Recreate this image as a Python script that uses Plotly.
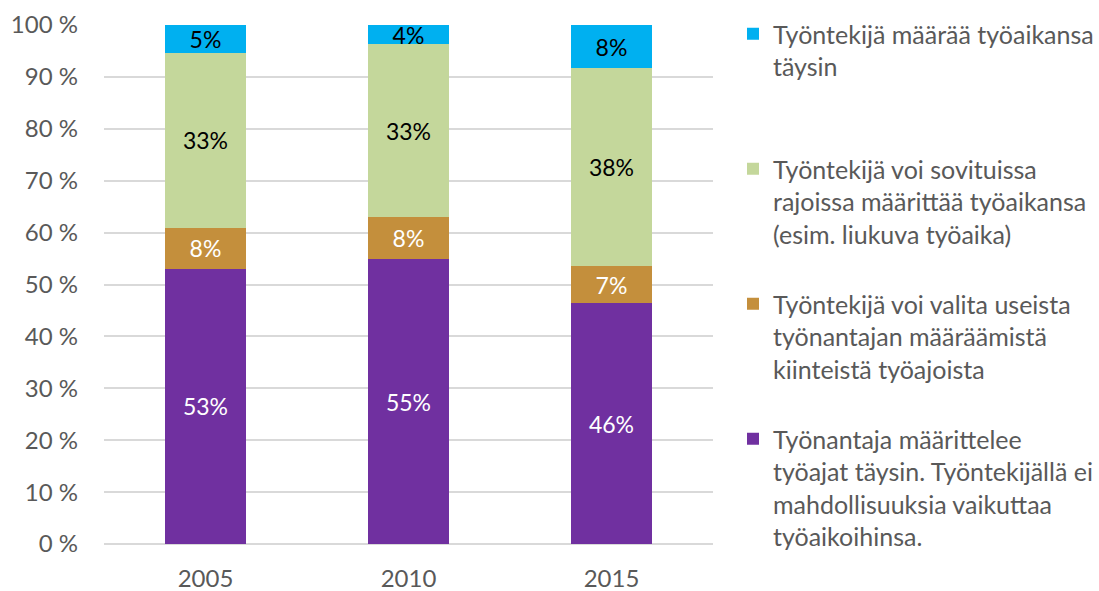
import plotly.graph_objects as go

years = ["2005", "2010", "2015"]
series_names = [
    "Työnantaja määrittelee<br>työajat täysin. Työntekijällä ei<br>mahdollisuuksia vaikuttaa<br>työaikoihinsa.",
    "Työntekijä voi valita useista<br>työnantajan määräämistä<br>kiinteistä työajoista",
    "Työntekijä voi sovituissa<br>rajoissa määrittää työaikansa<br>(esim. liukuva työaika)",
    "Työntekijä määrää työaikansa<br>täysin",
]
employer = [53.0, 54.9, 46.4]
fixed_choice = [7.9, 8.1, 7.2]
flexible = [33.7, 33.3, 38.1]
employee = [5.4, 3.7, 8.3]

employer_lbl = ["53%", "55%", "46%"]
fixed_lbl = ["8%", "8%", "7%"]
flexible_lbl = ["33%", "33%", "38%"]
employee_lbl = ["5%", "4%", "8%"]

colors = ["#7030A0", "#C48F3C", "#C4D79B", "#00B0F0"]
text_colors = ["white", "white", "black", "black"]
legend_ids = ["legend4", "legend3", "legend2", "legend"]
legend_y = [440, 305, 170, 35]

FONT = "Lato"
fig = go.Figure()
for vals, lbls, name, col, tcol, lid in zip(
    [employer, fixed_choice, flexible, employee],
    [employer_lbl, fixed_lbl, flexible_lbl, employee_lbl],
    series_names, colors, text_colors, legend_ids):
    fig.add_trace(go.Bar(
        x=years, y=vals, name=name, marker=dict(color=col, line=dict(width=0)),
        text=lbls, textposition="inside", insidetextanchor="middle",
        textangle=0, constraintext="none",
        textfont=dict(color=tcol, size=23, family=FONT),
        legend=lid, hoverinfo="skip",
    ))

W, H = 1099, 591
layout_legends = {}
for lid, yp in zip(legend_ids, legend_y):
    layout_legends[lid] = dict(
        x=733 / W, xref="container", xanchor="left",
        y=1 - (yp - 24) / H, yref="container", yanchor="top",
        font=dict(size=25, family=FONT, color="#595959"),
        valign="top", bgcolor="rgba(0,0,0,0)", itemwidth=30,
    )

fig.update_layout(
    barmode="stack", bargap=0.6,
    width=W, height=H,
    margin=dict(l=104, r=386, t=25, b=47, autoexpand=False),
    paper_bgcolor="white", plot_bgcolor="white",
    font=dict(family=FONT, color="#595959"),
    showlegend=True,
    **layout_legends,
)
fig.update_yaxes(
    range=[0, 100], dtick=10, ticksuffix=" %", automargin=False,
    showgrid=True, gridcolor="#D9D9D9", gridwidth=1.5,
    zeroline=True, zerolinecolor="#D9D9D9", zerolinewidth=1.5,
    tickfont=dict(size=24, family=FONT, color="#595959"),
    ticklabelstandoff=25,
)
fig.update_xaxes(
    tickfont=dict(size=24, family=FONT, color="#595959"), automargin=False,
    ticklabelstandoff=18, showline=False,
)
fig.write_html("out.html", config={"displayModeBar": False},
               post_script="document.body.style.margin='0';")
